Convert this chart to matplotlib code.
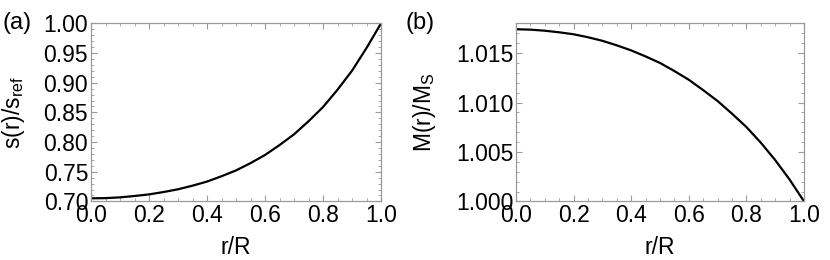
import matplotlib
matplotlib.use('Agg')
import matplotlib.pyplot as plt
from matplotlib.ticker import MultipleLocator

plt.rcParams['font.family'] = ['Liberation Sans', 'DejaVu Sans']
plt.rcParams['mathtext.fontset'] = 'custom'
plt.rcParams['mathtext.rm'] = 'Liberation Sans'
plt.rcParams['mathtext.it'] = 'Liberation Sans:italic'

# (a) entropy profile s(r)/s_ref
r_a = [0.0, 0.05, 0.1, 0.15, 0.2, 0.25, 0.3, 0.35, 0.4, 0.45, 0.5,
       0.55, 0.6, 0.65, 0.7, 0.75, 0.8, 0.85, 0.9, 0.95, 1.0]
s_a = [0.7052, 0.7055, 0.7068, 0.7091, 0.7118, 0.7158, 0.7204, 0.7265, 0.7334, 0.7424, 0.7522,
       0.7645, 0.7782, 0.7949, 0.8130, 0.8350, 0.8590, 0.8882, 0.9202, 0.9585, 1.0]

# (b) mass profile M(r)/M_S
r_b = [0.0, 0.05, 0.1, 0.15, 0.2, 0.25, 0.3, 0.35, 0.4, 0.45, 0.5,
       0.55, 0.6, 0.65, 0.7, 0.75, 0.8, 0.85, 0.9, 0.95, 1.0]
m_b = [1.01741, 1.01737, 1.01726, 1.01710, 1.01690, 1.01660, 1.01624, 1.01578, 1.01527, 1.01466, 1.01400,
       1.01318, 1.01230, 1.01125, 1.01015, 1.00887, 1.00752, 1.00594, 1.00418, 1.00221, 1.0]

fig = plt.figure(figsize=(8.3, 2.6), dpi=100)
ax1 = fig.add_axes([91/830, 1 - 201.4/260, 290/830, 178/260])
ax2 = fig.add_axes([516/830, 1 - 201.4/260, 288/830, 178/260])

frame = '#9a9a9a'
fs = 16.5


def style(ax):
   for sp in ax.spines.values():
      sp.set_color(frame)
      sp.set_linewidth(0.9)
   ax.tick_params(which='both', direction='in', top=True, right=True, color=frame,
                  labelsize=fs, labelcolor='black', pad=2)
   ax.tick_params(which='major', length=4, width=0.8)
   ax.tick_params(which='minor', length=2.5, width=0.6)
   ax.set_xlim(0, 1)
   ax.set_xticks([0, 0.2, 0.4, 0.6, 0.8, 1.0])
   ax.set_xticklabels(['0.0', '0.2', '0.4', '0.6', '0.8', '1.0'], fontsize=fs)
   ax.xaxis.set_minor_locator(MultipleLocator(0.05))
   ax.set_xlabel('r/R', fontsize=fs, labelpad=6)


ax1.plot(r_a, s_a, color='black', lw=1.6)
style(ax1)
ax1.set_ylim(0.70, 1.00)
ax1.set_yticks([0.70, 0.75, 0.80, 0.85, 0.90, 0.95, 1.00])
ax1.set_yticklabels(['0.70', '0.75', '0.80', '0.85', '0.90', '0.95', '1.00'])
ax1.yaxis.set_minor_locator(MultipleLocator(0.01))
ax1.set_ylabel(r's(r)/s$_\mathrm{ref}$', fontsize=fs, labelpad=12)

ax2.plot(r_b, m_b, color='black', lw=1.6)
style(ax2)
ax2.set_ylim(1.000, 1.018)
ax2.set_yticks([1.000, 1.005, 1.010, 1.015])
ax2.set_yticklabels(['1.000', '1.005', '1.010', '1.015'])
ax2.yaxis.set_minor_locator(MultipleLocator(0.001))
ax2.set_ylabel(r'M(r)/M$_\mathrm{S}$', fontsize=fs, labelpad=13)

fig.text(3/830, 1 - 23/260, '(a)', fontsize=17, va='center', ha='left')
fig.text(405/830, 1 - 23/260, '(b)', fontsize=17, va='center', ha='left')

fig.savefig('out.png', dpi=100)
